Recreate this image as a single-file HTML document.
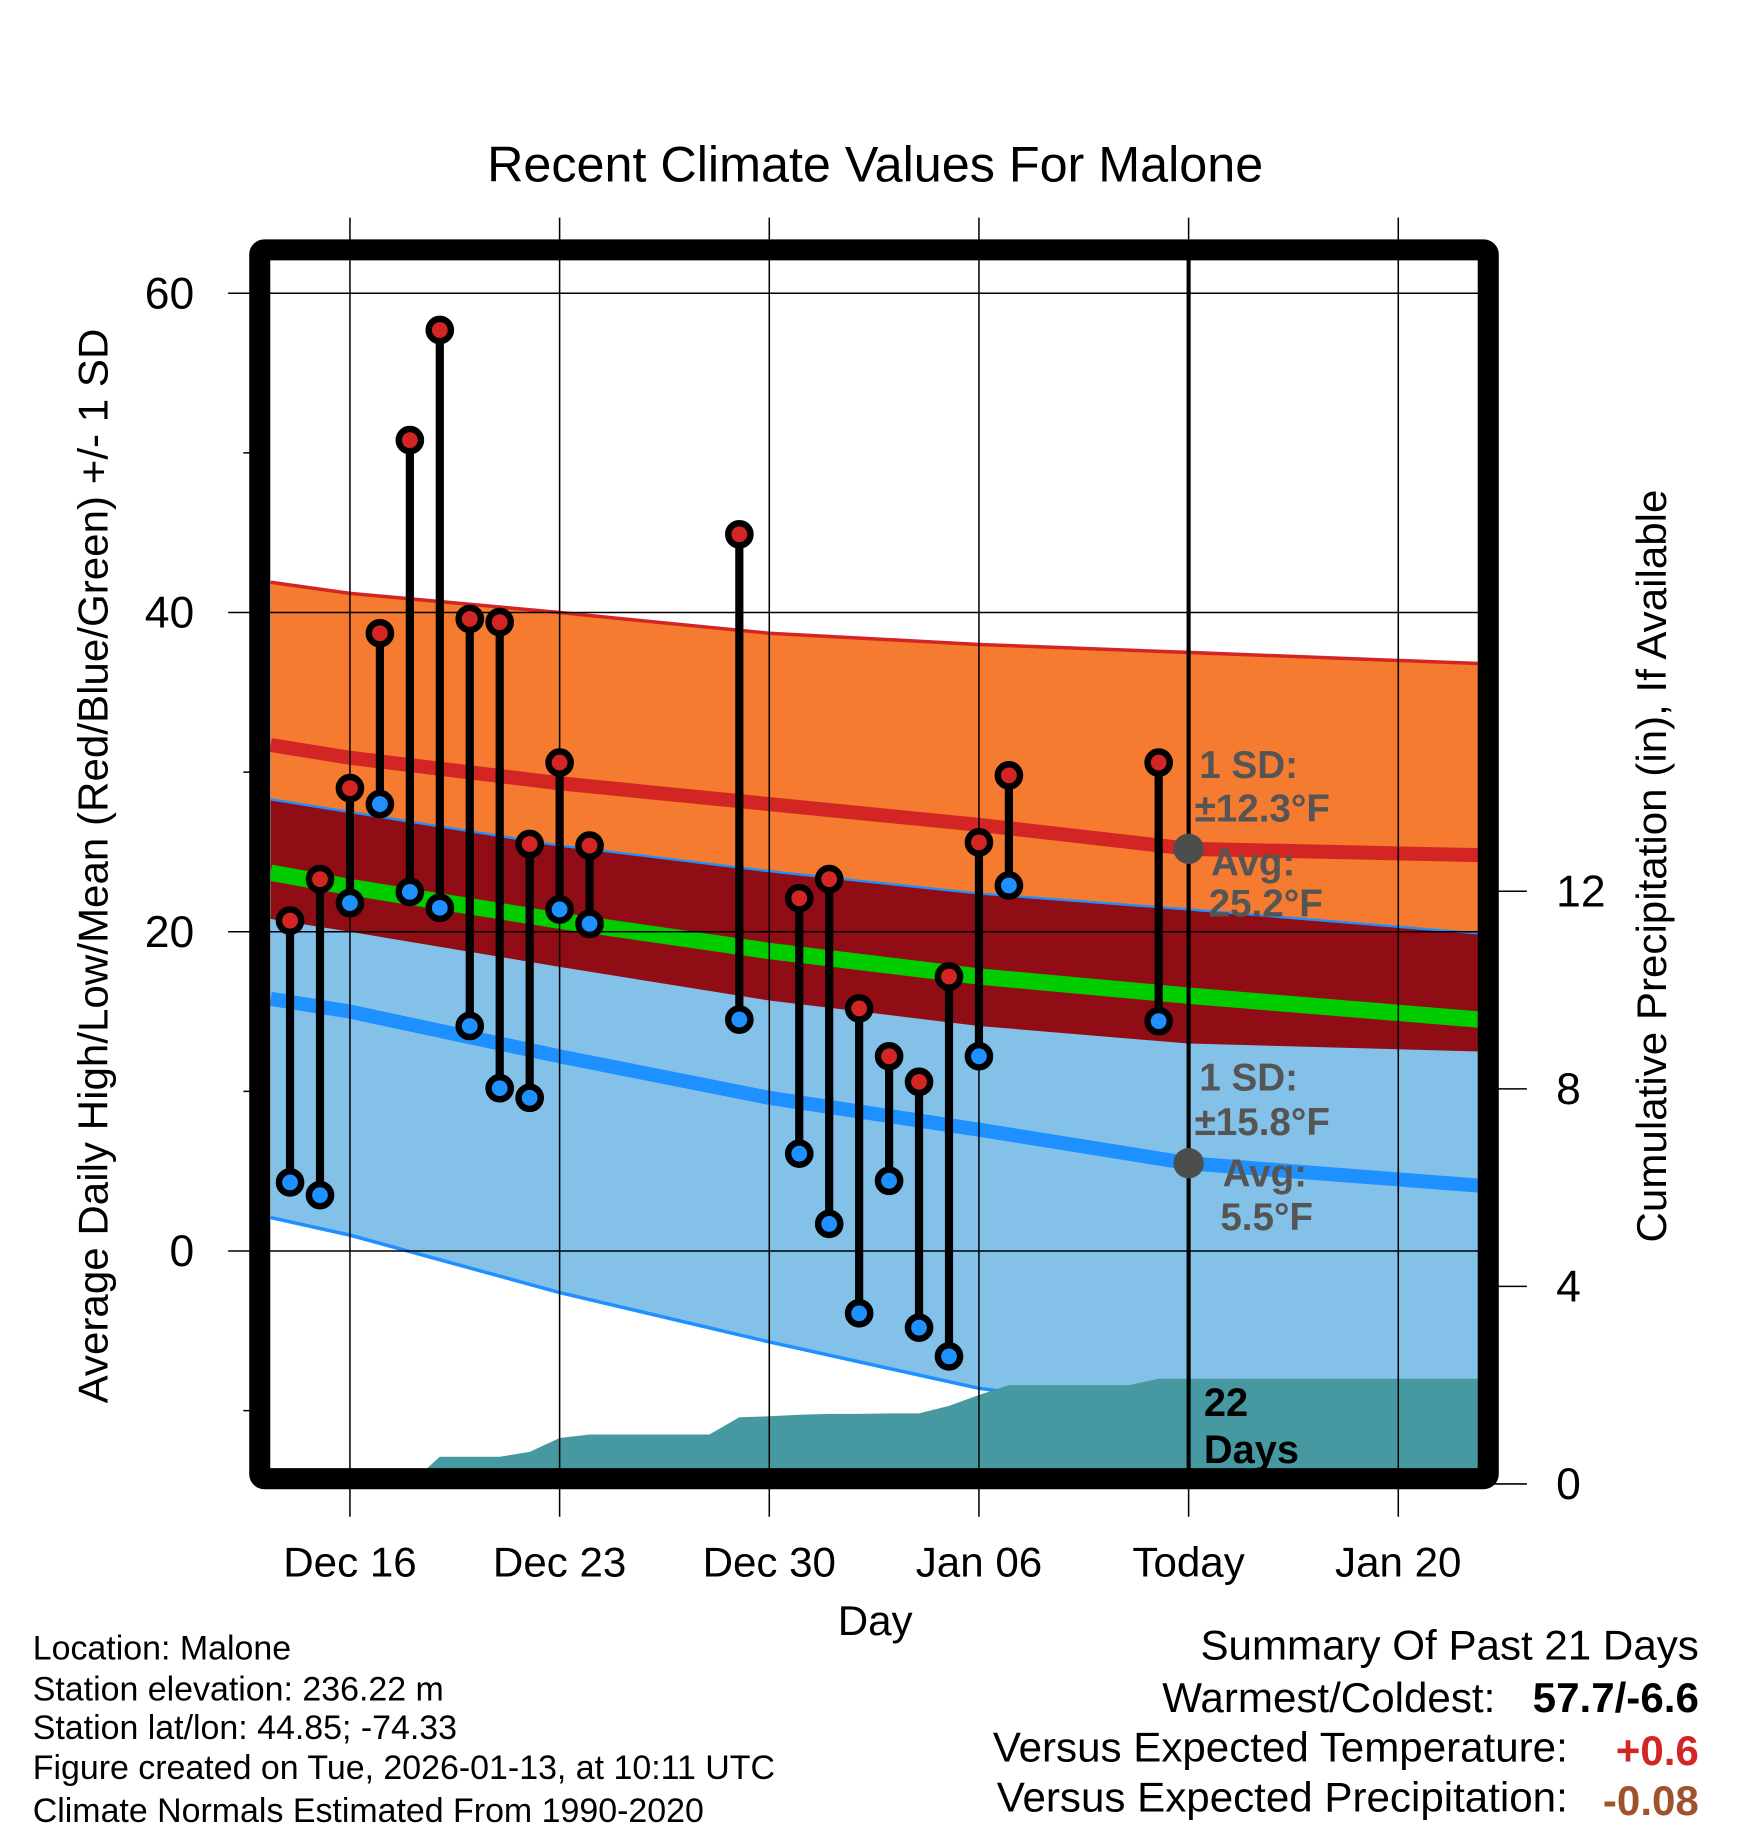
<!DOCTYPE html>
<html><head><meta charset="utf-8"><style>
html,body{margin:0;padding:0;background:#fff;}
svg{display:block;font-family:"Liberation Sans",Arial,sans-serif;}
</style></head><body>
<svg id="chart" width="1748" height="1828" viewBox="0 0 1494 1562" preserveAspectRatio="none" xmlns="http://www.w3.org/2000/svg">
<defs><clipPath id="plotclip"><rect x="231" y="222" width="1036" height="1037"/></clipPath></defs>
<g id="bands" clip-path="url(#plotclip)"></g>
<g id="lines" clip-path="url(#plotclip)"></g>
<g id="grid"></g>
<g id="marks"></g>
<text x="748" y="155" font-size="43" text-anchor="middle">Recent Climate Values For Malone</text>
<text transform="translate(92,740) rotate(-90)" font-size="36" text-anchor="middle">Average Daily High/Low/Mean (Red/Blue/Green) +/- 1 SD</text>
<text transform="translate(1424,740) rotate(-90)" font-size="36" text-anchor="middle">Cumulative Precipitation (in), If Available</text>
<text x="748" y="1397" font-size="36" text-anchor="middle">Day</text>
<g font-size="29">
<text x="28" y="1418">Location: Malone</text>
<text x="28" y="1453">Station elevation: 236.22 m</text>
<text x="28" y="1486">Station lat/lon: 44.85; -74.33</text>
<text x="28" y="1520">Figure created on Tue, 2026-01-13, at 10:11 UTC</text>
<text x="28" y="1557">Climate Normals Estimated From 1990-2020</text>
</g>
<g font-size="36">
<text x="1452" y="1418" text-anchor="end">Summary Of Past 21 Days</text>
<text x="1278" y="1463" text-anchor="end">Warmest/Coldest:</text>
<text x="1452" y="1463" text-anchor="end" font-weight="bold">57.7/-6.6</text>
<text x="1340" y="1505" text-anchor="end">Versus Expected Temperature:</text>
<text x="1452" y="1508" text-anchor="end" font-weight="bold" fill="#d42525">+0.6</text>
<text x="1340" y="1548" text-anchor="end">Versus Expected Precipitation:</text>
<text x="1452" y="1551" text-anchor="end" font-weight="bold" fill="#a0522d">-0.08</text>
</g>
</svg>
<script>
// ---- data ----
const normDays = [-2.65, 0, 7, 14, 21, 28, 37.7];
const highUpper = [41.9, 41.2, 40.0, 38.7, 38.0, 37.5, 36.8];
const highMean = [31.7, 30.9, 29.3, 28.0, 26.7, 25.2, 24.8];
const highLower = [20.8, 20.0, 17.8, 15.7, 14.1, 13.0, 12.5];
const lowUpper = [28.3, 27.5, 25.4, 23.8, 22.4, 21.4, 19.9];
const avgMean = [23.7, 22.8, 20.7, 18.8, 17.2, 16.0, 14.5];
const lowMean = [15.8, 15.0, 12.2, 9.6, 7.6, 5.5, 4.1];
const lowLower = [2.1, 1.0, -2.6, -5.7, -8.6, -10.3, -11.8];
const obsDays = [-2,-1,0,1,2,3,4,5,6,7,8,13,15,16,17,18,19,20,21,22,27];
const obsHigh = [20.7,23.3,29.0,38.7,50.8,57.7,39.6,39.4,25.5,30.6,25.4,44.9,22.1,23.3,15.2,12.2,10.6,17.2,25.6,29.8,30.6];
const obsLow = [4.3,3.5,21.8,28.0,22.5,21.5,14.1,10.2,9.6,21.4,20.5,14.5,6.1,1.7,-3.9,4.4,-4.8,-6.6,12.2,22.9,14.4];
const precipDays = [-2,-1,0,1,2,3,4,5,6,7,8,9,10,11,12,13,14,15,16,17,18,19,20,21,22,23,24,25,26,27,28,37.7];
const precipCum = [0,0,0,0,0,0.55,0.55,0.55,0.65,0.93,1.0,1.0,1.0,1.0,1.0,1.35,1.37,1.40,1.42,1.42,1.43,1.43,1.58,1.8,2.0,2.0,2.0,2.0,2.0,2.13,2.13,2.13];
const xTickDays = [0,7,14,21,28,35];
const xTickLabels = ["Dec 16","Dec 23","Dec 30","Jan 06","Today","Jan 20"];
const yTicks = [0,20,40,60];
const yMinor = [-10,10,30,50];
const pTicks = [0,4,8,12];

// ---- scales ----
const X = d => 299.1 + d*25.6;
const Y = t => 1069 - t*13.64;
const P = p => 1268 - p*42.2;
const NS = "http://www.w3.org/2000/svg";
function mk(tag, attrs, parent){const e=document.createElementNS(NS,tag);for(const k in attrs)e.setAttribute(k,attrs[k]);parent.appendChild(e);return e;}
const bands=document.getElementById('bands'), grid=document.getElementById('grid'), lines=document.getElementById('lines'), marks=document.getElementById('marks');
const pts = arr => normDays.map((d,i)=>X(d).toFixed(1)+','+Y(arr[i]).toFixed(1));
function band(up, lo, fill){return mk('polygon',{points:pts(up).concat(pts(lo).reverse()).join(' '),fill:fill},bands);}
let e;
e=band(highUpper, highLower, '#f47b2f');


e=band(lowUpper, lowLower, '#83c1e8');


e=band(lowUpper, highLower, '#910d16');


// normal lines
function line(arr,color,w){return mk('polyline',{points:pts(arr).join(' '),fill:'none',stroke:color,'stroke-width':w,'stroke-linejoin':'round'},lines);}
e=line(highUpper,'#d42525',3);


e=line(lowUpper,'#1e90ff',2);


e=line(lowLower,'#1e90ff',3);


// precip (on top of bands/thin lines)
const pp = precipDays.map((d,i)=>X(d).toFixed(1)+','+P(precipCum[i]).toFixed(1));
e=mk('polygon',{points:[X(precipDays[0])+','+P(0)].concat(pp).concat([X(precipDays[precipDays.length-1])+','+P(0)]).join(' '),fill:'#4799a1'},lines);


e=line(highMean,'#d42525',12);


e=line(avgMean,'#00cc00',14);


e=line(lowMean,'#1e90ff',12);


// grid
yTicks.forEach(t=>{
  e=mk('line',{x1:195,x2:1267,y1:Y(t),y2:Y(t),stroke:'#000','stroke-width':1.3},grid);
  
  
  e=mk('text',{x:166,y:Y(t)+13,'font-size':38,'text-anchor':'end'},grid);
  e.textContent=t;
  
  
});
yMinor.forEach(t=>{
  e=mk('line',{x1:208,x2:222,y1:Y(t),y2:Y(t),stroke:'#000','stroke-width':1.3},grid);
  
  
});
xTickDays.forEach((d,i)=>{
  e=mk('line',{x1:X(d),x2:X(d),y1:186,y2:1296,stroke:'#000','stroke-width':1.3},grid);
  
  
  e=mk('text',{x:X(d),y:1347,'font-size':36,'text-anchor':'middle'},grid);
  e.textContent=xTickLabels[i];
  
  
});
pTicks.forEach(p=>{
  e=mk('line',{x1:1272,x2:1305,y1:P(p),y2:P(p),stroke:'#000','stroke-width':1.3},grid);
  
  
  e=mk('text',{x:1330,y:P(p)+13,'font-size':38,'text-anchor':'start'},grid);
  e.textContent=p;
  
  
});
// today line
e=mk('line',{x1:X(28),x2:X(28),y1:213,y2:1263,stroke:'#000','stroke-width':3.5},marks);


// observations
obsDays.forEach((d,i)=>{
  const x=X(d);
  e=mk('line',{x1:x,x2:x,y1:Y(obsHigh[i]),y2:Y(obsLow[i]),stroke:'#000','stroke-width':7},marks);
  
  
  e=mk('circle',{cx:x,cy:Y(obsHigh[i]),r:9.5,fill:'#d42525',stroke:'#000','stroke-width':5.5},marks);
  
  
  e=mk('circle',{cx:x,cy:Y(obsLow[i]),r:9.5,fill:'#1e90ff',stroke:'#000','stroke-width':5.5},marks);
  
  
});
// today markers & annotations
const ti = normDays.indexOf(28);
e=mk('circle',{cx:X(28),cy:Y(highMean[ti]),r:13,fill:'#4d4d4d'},marks);


e=mk('circle',{cx:X(28),cy:Y(lowMean[ti]),r:13,fill:'#4d4d4d'},marks);


const ann=[["1 SD:",1025,665],["±12.3°F",1021,702],["Avg:",1035,748],["25.2°F",1033,783],["1 SD:",1025,932],["±15.8°F",1021,970],["Avg:",1045,1014],["5.5°F",1043,1051]];
ann.forEach(a=>{
  e=mk('text',{x:a[1],y:a[2],'font-size':33,'font-weight':'bold',fill:'#555'},marks);
  e.textContent=a[0];
  
  
});
e=mk('text',{x:1029,y:1210,'font-size':34,'font-weight':'bold',fill:'#000'},marks);
e.textContent='22';


e=mk('text',{x:1029,y:1250,'font-size':34,'font-weight':'bold',fill:'#000'},marks);
e.textContent='Days';


// frame
e=mk('rect',{x:222,y:213.5,width:1050,height:1050,fill:'none',stroke:'#000','stroke-width':18,rx:4},marks);


</script>
</body></html>
